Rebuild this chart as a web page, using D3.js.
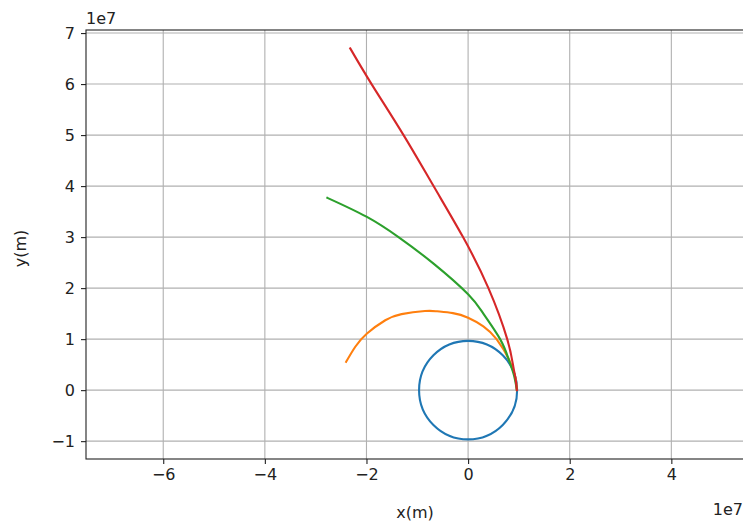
<!DOCTYPE html>
<html>
<head>
<meta charset="utf-8">
<script src="https://cdn.jsdelivr.net/npm/d3@7"></script>
<style>
  body { margin: 0; background: white; }
  svg { display: block; overflow: hidden; font-family: "DejaVu Sans", sans-serif; }
</style>
</head>
<body>
<div id="chart"></div>
<script>
// All distances in units of 1e7 m
const planetRadius = 0.965;

const orangeX = [0.96, 0.93, 0.81, 0.56, 0.30, 0.00, -0.30, -0.61, -0.85, -1.31, -1.63, -1.99, -2.22, -2.40];
const orangeY = [0.00, 0.25, 0.59, 1.00, 1.25, 1.42, 1.51, 1.545, 1.55, 1.49, 1.37, 1.11, 0.85, 0.555];

const greenX = [0.96, 0.90, 0.80, 0.63, 0.30, 0.00, -0.68, -1.37, -2.00, -2.77];
const greenY = [0.00, 0.30, 0.60, 1.00, 1.50, 1.88, 2.48, 3.00, 3.40, 3.77];

const redX = [0.96, 0.93, 0.89, 0.77, 0.40, -0.10, -0.68, -1.27, -1.90, -2.32];
const redY = [0.00, 0.25, 0.46, 1.00, 2.00, 3.00, 4.00, 5.00, 6.00, 6.70];

const xTicks = [-6, -4, -2, 0, 2, 4];
const yTicks = [-1, 0, 1, 2, 3, 4, 5, 6, 7];

const series = [
    { name: "orange", xs: orangeX, ys: orangeY, color: "#ff7f0e" },
    { name: "green", xs: greenX, ys: greenY, color: "#2ca02c" },
    { name: "red", xs: redX, ys: redY, color: "#d62728" }
];

// Chart dimensions
const width = 743;
const height = 523;
const margin = { top: 30, right: -1, bottom: 64, left: 86 };

const svg = d3.select("#chart").append("svg")
    .attr("width", width)
    .attr("height", height);

const x = d3.scaleLinear()
    .domain([-7.52, 5.43])
    .range([margin.left, width - margin.right]);

const y = d3.scaleLinear()
    .domain([-1.35, 7.06])
    .range([height - margin.bottom, margin.top]);

const fmt = d3.format("d");

// Grid
const grid = svg.append("g").attr("stroke", "#b0b0b0").attr("stroke-width", 1.1);
grid.selectAll(".gx").data(xTicks).enter().append("line")
    .attr("x1", d => x(d)).attr("x2", d => x(d))
    .attr("y1", y.range()[0]).attr("y2", y.range()[1]);
grid.selectAll(".gy").data(yTicks).enter().append("line")
    .attr("x1", x.range()[0]).attr("x2", x.range()[1])
    .attr("y1", d => y(d)).attr("y2", d => y(d));

// Clip for the data
svg.append("clipPath").attr("id", "plot").append("rect")
    .attr("x", x.range()[0]).attr("y", y.range()[1])
    .attr("width", x.range()[1] - x.range()[0])
    .attr("height", y.range()[0] - y.range()[1]);

const plot = svg.append("g").attr("clip-path", "url(#plot)");

// Planet circle
plot.append("ellipse")
    .attr("cx", x(0))
    .attr("cy", y(0))
    .attr("rx", x(planetRadius) - x(0))
    .attr("ry", y(0) - y(planetRadius))
    .attr("fill", "none")
    .attr("stroke", "#1f77b4")
    .attr("stroke-width", 2.1);

// Trajectories
const line = d3.line()
    .x(d => x(d[0]))
    .y(d => y(d[1]))
    .curve(d3.curveNatural);

series.forEach(function (s) {
    plot.append("path")
        .attr("d", line(d3.zip(s.xs, s.ys)))
        .attr("fill", "none")
        .attr("stroke", s.color)
        .attr("stroke-width", 2.1)
        .attr("stroke-linecap", "square");
});

// Axes
const xAxis = svg.append("g")
    .attr("transform", "translate(0," + y.range()[0] + ")")
    .call(d3.axisBottom(x).tickValues(xTicks).tickFormat(fmt).tickSize(5).tickPadding(5));

const yAxis = svg.append("g")
    .attr("transform", "translate(" + x.range()[0] + ",0)")
    .call(d3.axisLeft(y).tickValues(yTicks).tickFormat(fmt).tickSize(5).tickPadding(6));

[xAxis, yAxis].forEach(function (a) {
    a.select(".domain").remove();
    a.selectAll("text").attr("font-size", 16).attr("font-family", "DejaVu Sans").attr("fill", "#222");
    a.selectAll("line").attr("stroke", "#222").attr("stroke-width", 1.1);
});

// Frame
svg.append("rect")
    .attr("x", x.range()[0]).attr("y", y.range()[1])
    .attr("width", x.range()[1] - x.range()[0])
    .attr("height", y.range()[0] - y.range()[1])
    .attr("fill", "none")
    .attr("stroke", "#222")
    .attr("stroke-width", 1.1);

// Offset labels
svg.append("text")
    .attr("x", x.range()[0])
    .attr("y", 24)
    .attr("font-size", 16)
    .attr("fill", "#222")
    .text("1e7");

svg.append("text")
    .attr("x", 743)
    .attr("y", 515)
    .attr("text-anchor", "end")
    .attr("font-size", 16)
    .attr("fill", "#222")
    .text("1e7");

// Axis titles
svg.append("text")
    .attr("x", (x.range()[0] + x.range()[1]) / 2)
    .attr("y", 518)
    .attr("text-anchor", "middle")
    .attr("font-size", 16)
    .attr("fill", "#222")
    .text("x(m)");

svg.append("text")
    .attr("transform", "translate(26," + ((y.range()[0] + y.range()[1]) / 2 + 4) + ") rotate(-90)")
    .attr("text-anchor", "middle")
    .attr("font-size", 16)
    .attr("fill", "#222")
    .text("y(m)");
</script>
</body>
</html>
